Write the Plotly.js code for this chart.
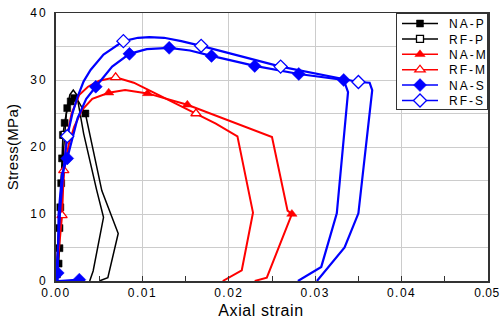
<!DOCTYPE html>
<html>
<head>
<meta charset="utf-8">
<script src="https://cdn.plot.ly/plotly-3.0.1.min.js"></script>
<style>
  html, body { margin:0; padding:0; background:#fff; }
  #chart { width:501px; height:322px; }
  .legend .traces { opacity:1 !important; }
  .legendtext { letter-spacing:2px; }
  .xtick text { letter-spacing:1.5px; }
  .ytick text { letter-spacing:2px; }
  .xtitle { letter-spacing:0.6px; }
  .ytitle { letter-spacing:0.3px; }
</style>
</head>
<body>
<div id="chart"></div>
<script>
// ---- data (strain, stress in MPa) ----
const seriesNames = ["NA-P", "RF-P", "NA-M", "RF-M", "NA-S", "RF-S"];

const naP_x = [0, 0.0001, 0.0003, 0.0004, 0.0004, 0.0005, 0.0006, 0.0007, 0.0008, 0.0010, 0.0013, 0.0017, 0.0021, 0.0026, 0.0034, 0.0053, 0.0072, 0.0060, 0.0050];
const naP_y = [0, 1.0, 2.6, 4.9, 7.9, 11.0, 14.6, 18.3, 21.8, 23.6, 25.8, 26.8, 27.3, 26.8, 25.0, 13.5, 7.1, 0.5, 0];
const naP_mk = [1, 2, 3, 4, 5, 6, 7, 8, 9, 10, 11, 12, 14];

const rfP_x = [0, 0.0002, 0.0004, 0.0006, 0.0010, 0.0012, 0.0016, 0.0020, 0.0024, 0.0032, 0.0047, 0.0055, 0.0043, 0.0039];
const rfP_y = [0, 4.0, 9.0, 15.0, 21.8, 25.0, 27.8, 28.5, 27.8, 22.0, 13.6, 9.5, 1.5, 0];
const rfP_mk = [4];

const naM_x = [0, 0.0003, 0.0006, 0.0010, 0.0015, 0.0021, 0.0030, 0.0042, 0.0061, 0.0080, 0.0106, 0.0152, 0.0250, 0.0268, 0.0273, 0.0244, 0.0230];
const naM_y = [0, 6.0, 12.0, 17.0, 20.5, 23.0, 25.5, 27.2, 28.1, 28.5, 28.0, 26.3, 21.5, 10.5, 10.0, 0.5, 0];
const naM_mk = [8, 10, 11, 14];

const rfM_x = [0, 0.0004, 0.0007, 0.0009, 0.0012, 0.0018, 0.0027, 0.0037, 0.0050, 0.0069, 0.0090, 0.0115, 0.0162, 0.0185, 0.0210, 0.0228, 0.0215, 0.0193];
const rfM_y = [0, 5.0, 9.8, 16.5, 21.0, 25.0, 27.8, 29.0, 29.9, 30.4, 29.6, 28.0, 25.0, 23.5, 21.6, 10.2, 1.6, 0];
const rfM_mk = [2, 3, 9, 12];

const naS_x = [0.0033, 0.0027, 0.0003, 0.0001, 0.0002, 0.0003, 0.0007, 0.0013, 0.0025, 0.0035, 0.0046, 0.0065, 0.0085, 0.0105, 0.0131, 0.0155, 0.0180, 0.0230, 0.0281, 0.0333, 0.0338, 0.0325, 0.0307, 0.0280];
const naS_y = [0, 0.2, 0, 0.3, 1.2, 10.0, 16.0, 18.3, 24.3, 27.2, 29.0, 32.0, 33.9, 34.6, 34.8, 34.4, 33.6, 32.1, 30.9, 30.0, 28.2, 10.1, 2.1, 0];
const naS_mk = [1, 4, 7, 10, 12, 14, 16, 17, 18, 19];

const rfS_x = [0, 0.0002, 0.0005, 0.0009, 0.0013, 0.0019, 0.0025, 0.0032, 0.0040, 0.0055, 0.0078, 0.0095, 0.0108, 0.0125, 0.0145, 0.0168, 0.0260, 0.0350, 0.0363, 0.0366, 0.0350, 0.0334, 0.0302];
const rfS_y = [0, 5.0, 11.0, 17.0, 21.6, 25.0, 27.5, 29.8, 31.5, 33.8, 35.8, 36.3, 36.4, 36.3, 35.8, 35.1, 32.0, 29.7, 29.6, 28.5, 10.1, 5.0, 0];
const rfS_mk = [4, 10, 15, 16, 17];

const xTickVals = [0, 0.01, 0.02, 0.03, 0.04, 0.05];
const xTickText = ["0.00", "0.01", "0.02", "0.03", "0.04", "0.05"];
const yTickVals = [0, 10, 20, 30, 40];
const yTickText = ["0", "10", "20", "30", "40"];

// ---- styles ----
const styles = [
  {color:"#000000", symbol:"square",  filled:true,  size:7,  width:1.5},
  {color:"#000000", symbol:"square",  filled:false, size:7,  width:1.5},
  {color:"#ff0000", symbol:"triangle-up", filled:true,  size:9,  width:2},
  {color:"#ff0000", symbol:"triangle-up", filled:false, size:9,  width:2},
  {color:"#0000ff", symbol:"diamond", filled:true,  size:10, width:2.2},
  {color:"#0000ff", symbol:"diamond", filled:false, size:10, width:2.2}
];
const allData = [
  [naP_x, naP_y, naP_mk], [rfP_x, rfP_y, rfP_mk],
  [naM_x, naM_y, naM_mk], [rfM_x, rfM_y, rfM_mk],
  [naS_x, naS_y, naS_mk], [rfS_x, rfS_y, rfS_mk]
];

const lineTraces = [], markTraces = [], legendTraces = [];
allData.forEach(function(d, i) {
  const s = styles[i];
  const mx = d[2].map(function(k){ return d[0][k]; });
  const my = d[2].map(function(k){ return d[1][k]; });
  const marker = {
    symbol: s.symbol, size: s.size,
    color: s.filled ? s.color : "#ffffff",
    line: {color: s.color, width: s.filled ? 0.5 : 1.3}
  };
  lineTraces.push({x:d[0], y:d[1], type:"scatter", mode:"lines", showlegend:false,
    hoverinfo:"skip", line:{color:s.color, width:s.width}});
  markTraces.push({x:mx, y:my, type:"scatter", mode:"markers", showlegend:false,
    hoverinfo:"skip", marker:marker});
  legendTraces.push({x:mx, y:my, type:"scatter", mode:"lines+markers", name:seriesNames[i],
    visible:"legendonly", line:{color:s.color, width:1.5}, marker:marker});
});

const traces = [];
for (let i = 0; i < 6; i++) { traces.push(lineTraces[i]); traces.push(markTraces[i]); }
legendTraces.forEach(function(t){ traces.push(t); });

const fontFam = "Liberation Sans, Arial, sans-serif";
const layout = {
  width: 501, height: 322,
  margin: {l:56, r:13, t:13, b:41, pad:0},
  paper_bgcolor: "#ffffff", plot_bgcolor: "#ffffff",
  font: {family: fontFam, color:"#000000", size:12},
  showlegend: true,
  legend: {x:1, xanchor:"right", y:1, yanchor:"top", bgcolor:"#ffffff",
    bordercolor:"#333333", borderwidth:1, font:{family:fontFam, size:12, color:"#000"},
    itemwidth:36, tracegroupgap:0, itemclick:false, itemdoubleclick:false},
  xaxis: {
    range:[0, 0.05], tickvals:xTickVals, ticktext:xTickText,
    ticks:"inside", ticklen:5, tickcolor:"#333", tickwidth:1,
    ticklabeloverflow:"allow",
    showgrid:true, gridcolor:"#cccccc", gridwidth:1,
    minor:{dtick:0.005, ticks:"inside", ticklen:5, tickcolor:"#333", showgrid:false},
    showline:true, linecolor:"#333333", linewidth:1.5, mirror:true,
    zeroline:false, tickfont:{size:12, family:fontFam},
    title:{text:"Axial strain", font:{size:16, family:fontFam}, standoff:6}
  },
  yaxis: {
    range:[0, 40], tickvals:yTickVals, ticktext:yTickText,
    ticks:"", showgrid:true, gridcolor:"#cccccc", gridwidth:1,
    minor:{dtick:5, showgrid:true, gridcolor:"#cccccc", gridwidth:1, ticks:""},
    showline:true, linecolor:"#333333", linewidth:2, mirror:true,
    zeroline:false, tickfont:{size:12, family:fontFam}, ticklabelstandoff:4,
    title:{text:"Stress(MPa)", font:{size:15, family:fontFam}, standoff:8}
  }
};

Plotly.newPlot("chart", traces, layout, {staticPlot:true, displayModeBar:false}).then(function(){
  // tighten legend rows to match the reference spacing
  const leg = document.querySelector(".legend");
  if (leg) {
    const items = leg.querySelectorAll("g.traces");
    items.forEach(function(g, i) {
      const t = g.getAttribute("transform") || "";
      const m = /translate\(\s*([-\d.]+)[ ,]+([-\d.]+)\s*\)/.exec(t);
      const tx = m ? m[1] : "0";
      g.setAttribute("transform", "translate(" + tx + "," + (10.5 + i * 15.4) + ")");
      const txt = g.querySelector(".legendtext");
      if (txt) txt.setAttribute("x", (+txt.getAttribute("x") + 6));
    });
    const bg = leg.querySelector("rect.bg");
    if (bg) bg.setAttribute("height", 96);
  }
  // keep the last x tick label inside the page
  document.querySelectorAll(".xtick text").forEach(function(el) {
    if (el.textContent === xTickText[xTickText.length - 1]) {
      el.style.letterSpacing = "0.6px";
      el.setAttribute("x", (+el.getAttribute("x") || 0) - 1);
    }
  });
  const xt = document.querySelector(".xtitle");
  if (xt) xt.setAttribute("x", (+xt.getAttribute("x") - 11));
});
</script>
</body>
</html>
